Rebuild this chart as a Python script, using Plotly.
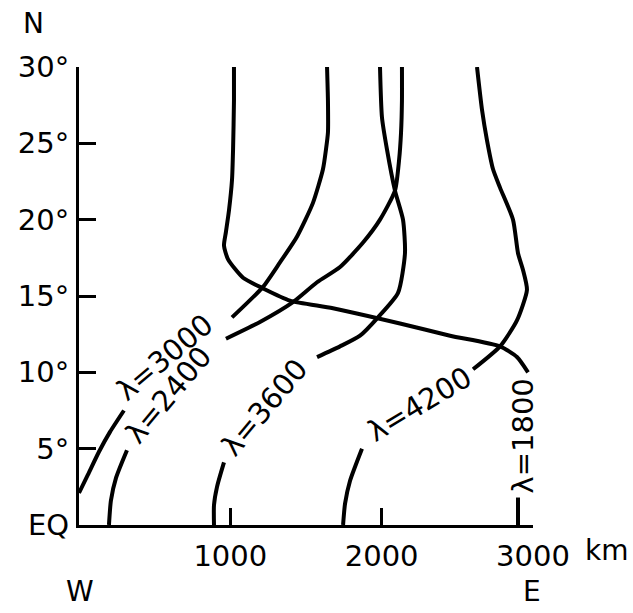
import plotly.graph_objects as go

# Axis ticks
lat_ticks = [0, 5, 10, 15, 20, 25, 30]
lat_labels = ["EQ", "5°", "10°", "15°", "20°", "25°", "30°"]
km_ticks = [1000, 2000, 3000]
km_labels = ["1000", "2000", "3000"]

# Curves: distance east (km) vs latitude (deg); None breaks the line where the label sits
km_1800 = [1024, 1024, 1018, 1011, 991, 971, 958, 985, 1084, 1216, 1394, 1678, 2121, 2452, 2782, 2894, 2967,
           None, 2901, 2901]
lat_1800 = [30.0, 27.8, 24.6, 22.6, 20.6, 19.2, 18.3, 17.4, 16.2, 15.5, 14.7, 14.2, 13.2, 12.4, 11.7, 11.0, 10.0,
            None, 1.8, 0.0]

km_2400 = [2134, 2134, 2128, 2115, 2088, 1989, 1877, 1725, 1573, 1414, 1196, 971,
           None, 317, 245, 211, 198]
lat_2400 = [30.0, 27.8, 25.7, 23.9, 21.9, 20.0, 18.5, 16.9, 15.9, 14.6, 13.3, 12.2,
            None, 4.9, 3.1, 1.6, 0.0]

km_3000 = [1639, 1645, 1645, 1632, 1612, 1546, 1441, 1328, 1216, 1011,
           None, 297, 205, 132, 59, 0]
lat_3000 = [30.0, 27.8, 25.7, 24.6, 23.3, 21.1, 18.9, 17.2, 15.6, 13.6,
            None, 7.5, 6.1, 4.8, 3.3, 2.1]

km_3600 = [1989, 2002, 2035, 2088, 2141, 2154, 2108, 1976, 1857, 1725, 1573,
           None, 958, 912, 892, 892]
lat_3600 = [30.0, 26.7, 24.6, 21.9, 20.0, 17.8, 15.2, 13.6, 12.4, 11.7, 11.0,
            None, 4.1, 2.5, 1.3, 0.0]

km_4200 = [2630, 2663, 2696, 2736, 2782, 2868, 2901, 2934, 2960, 2894, 2782, 2604,
           None, 1870, 1791, 1758, 1745]
lat_4200 = [30.0, 27.2, 25.2, 23.3, 22.1, 20.0, 17.8, 16.7, 15.4, 13.4, 11.7, 10.2,
            None, 5.0, 2.9, 1.4, 0.0]

wavelengths = [1800, 2400, 3000, 3600, 4200]
curves_km = [km_1800, km_2400, km_3000, km_3600, km_4200]
curves_lat = [lat_1800, lat_2400, lat_3000, lat_3600, lat_4200]

# In-line label placement (km, lat, rotation)
label_km = [2934, 590, 568, 1229, 2253]
label_lat = [5.8, 8.5, 11.0, 7.7, 7.9]
label_angle = [-90, -50, -40, -50, -31]

FONT = "DejaVu Sans"
fig = go.Figure()

for wl, xs, ys in zip(wavelengths, curves_km, curves_lat):
    fig.add_trace(go.Scatter(
        x=xs, y=ys, mode="lines",
        line=dict(color="black", width=4, shape="spline", smoothing=0.6),
        connectgaps=False, showlegend=False, hoverinfo="skip",
    ))

for wl, lx, ly, ang in zip(wavelengths, label_km, label_lat, label_angle):
    fig.add_annotation(
        x=lx, y=ly, xref="x", yref="y", text=f"λ={wl}", showarrow=False,
        textangle=ang, xanchor="center", yanchor="middle",
        font=dict(family=FONT, size=29, color="black"),
    )

# Axis end letters and unit
for txt, px, py in [("N", -0.101, 1.094), ("W", 0.002, -0.146), ("E", 0.998, -0.146)]:
    fig.add_annotation(x=px, y=py, xref="paper", yref="paper", text=txt, showarrow=False,
                       xanchor="center", yanchor="middle",
                       font=dict(family=FONT, size=28, color="black"))
fig.add_annotation(x=1.11, y=-0.055, xref="paper", yref="paper", text="km", showarrow=False,
                   xanchor="left", yanchor="middle",
                   font=dict(family=FONT, size=28, color="black"))

fig.update_layout(
    width=633, height=613,
    margin=dict(l=79, r=100, t=67, b=88),
    paper_bgcolor="white", plot_bgcolor="white",
    showlegend=False,
)
fig.update_xaxes(
    range=[0, 3000], tickmode="array", tickvals=km_ticks, ticktext=km_labels,
    showline=True, linecolor="black", linewidth=3, mirror=False,
    ticks="inside", ticklen=17, tickwidth=3, tickcolor="black",
    showgrid=False, zeroline=False, ticklabelstandoff=3,
    tickfont=dict(family=FONT, size=29, color="black"),
)
fig.update_yaxes(
    range=[0, 30], tickmode="array", tickvals=lat_ticks, ticktext=lat_labels,
    showline=True, linecolor="black", linewidth=3, mirror=False,
    ticks="inside", ticklen=17, tickwidth=3, tickcolor="black",
    showgrid=False, zeroline=False, ticklabelstandoff=1,
    tickfont=dict(family=FONT, size=29, color="black"),
)

fig.write_html("out.html")
